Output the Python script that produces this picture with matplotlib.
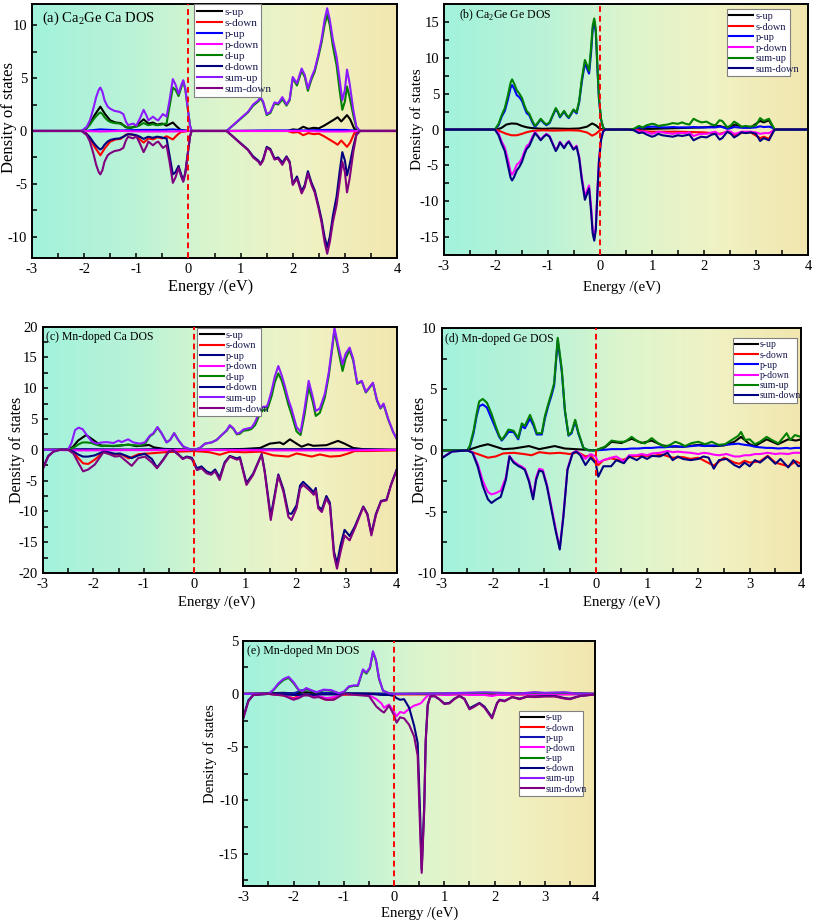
import matplotlib
matplotlib.use("Agg")
import matplotlib.pyplot as plt
from matplotlib.colors import LinearSegmentedColormap
from matplotlib.ticker import MultipleLocator
import numpy as np

plt.rcParams['font.family'] = ['Liberation Serif', 'DejaVu Serif']
plt.rcParams['mathtext.fontset'] = 'custom'
plt.rcParams['mathtext.rm'] = 'Liberation Serif'
plt.rcParams['axes.unicode_minus'] = False

# ---------------- Panel (a): Ca2Ge, Ca DOS ----------------
a_sum_x = [-3, -2.05, -1.95, -1.89, -1.82, -1.77, -1.72, -1.69, -1.65, -1.61, -1.55, -1.5, -1.42, -1.32,
           -1.25, -1.2, -1.16, -1.06, -1.0, -0.93, -0.86, -0.8, -0.77, -0.72, -0.68, -0.62, -0.58, -0.52,
           -0.49, -0.42, -0.36, -0.3, -0.25, -0.19, -0.14, -0.1, -0.06, -0.01, 0.03, 0.06, 0.73, 0.86, 1.0,
           1.14, 1.24, 1.34, 1.38, 1.43, 1.5, 1.57, 1.65, 1.72, 1.8, 1.88, 1.94, 2.0, 2.08, 2.17, 2.23, 2.29,
           2.36, 2.42, 2.49, 2.55, 2.61, 2.66, 2.71, 2.77, 2.84, 2.9, 2.95, 3.0, 3.04, 3.09, 3.16, 3.22,
           3.29, 4.0]
a_sum_up = [0, 0, 0.4, 1.0, 2.2, 3.2, 3.9, 4.1, 3.7, 2.9, 2.3, 2.1, 1.9, 1.8, 1.6, 0.9, 0.55, 0.7, 0.5,
            1.2, 2.0, 1.4, 1.0, 1.2, 1.35, 1.1, 1.0, 1.4, 1.6, 1.35, 3.0, 4.9, 4.4, 3.5, 4.3, 4.8, 4.0, 2.0,
            0.5, 0, 0, 0.57, 1.2, 1.8, 2.5, 2.9, 3.2, 2.8, 1.6, 1.8, 2.7, 2.6, 3.2, 2.5, 3.0, 5.1, 4.5, 5.9,
            5.3, 4.0, 5.1, 5.8, 7.2, 8.6, 10.5, 11.6, 10.5, 8.6, 7.0, 4.8, 2.9, 3.9, 5.8, 4.5, 2.0, 0.4, 0, 0]
a_sum_dn = [0, 0, -0.4, -1.0, -2.2, -3.2, -3.9, -4.1, -3.7, -2.9, -2.3, -2.1, -1.9, -1.8, -1.6, -0.9,
            -0.55, -0.7, -0.5, -1.2, -2.0, -1.4, -1.0, -1.2, -1.35, -1.1, -1.0, -1.4, -1.6, -1.35, -3.0,
            -4.9, -4.4, -3.5, -4.3, -4.8, -4.0, -2.0, -0.5, 0, 0, -0.57, -1.2, -1.8, -2.5, -2.9, -3.2, -2.8,
            -1.6, -1.8, -2.7, -2.6, -3.2, -2.5, -3.0, -5.1, -4.5, -5.9, -5.3, -4.0, -5.1, -5.8, -7.2, -8.6,
            -10.5, -11.6, -10.5, -8.6, -7.0, -4.8, -2.9, -3.9, -5.8, -4.5, -2.0, -0.4, 0, 0]
a_d_up = [0, 0, 0.3, 0.6, 1.1, 1.4, 1.65, 1.75, 1.6, 1.3, 1.0, 0.85, 0.75, 0.7, 0.55, 0.4, 0.3, 0.35, 0.4,
          0.55, 0.75, 0.6, 0.55, 0.6, 0.65, 0.55, 0.55, 0.6, 0.65, 0.7, 2.4, 4.1, 3.9, 3.3, 4.1, 4.7, 3.9,
          2.0, 0.5, 0, 0, 0.55, 1.15, 1.75, 2.4, 2.8, 3.1, 2.7, 1.5, 1.7, 2.6, 2.5, 3.0, 2.4, 2.9, 5.0, 4.3,
          5.7, 5.1, 3.8, 4.9, 5.6, 7.0, 8.3, 10.0, 11.0, 10.0, 8.0, 6.2, 3.8, 2.0, 2.8, 4.2, 3.2, 1.5, 0.3,
          0, 0]
a_d_dn = [0, 0, -0.3, -0.6, -1.1, -1.4, -1.65, -1.75, -1.6, -1.3, -1.0, -0.85, -0.75, -0.7, -0.55, -0.4,
          -0.3, -0.35, -0.4, -0.55, -0.75, -0.6, -0.55, -0.6, -0.65, -0.55, -0.55, -0.6, -0.65, -0.7, -2.4,
          -4.1, -3.9, -3.3, -4.1, -4.7, -3.9, -2.0, -0.5, 0, 0, -0.55, -1.15, -1.75, -2.4, -2.8, -3.1, -2.7,
          -1.5, -1.7, -2.6, -2.5, -3.0, -2.4, -2.9, -5.0, -4.3, -5.7, -5.1, -3.8, -4.9, -5.6, -7.0, -8.3,
          -10.0, -11.0, -10.0, -8.0, -6.2, -3.8, -2.0, -2.8, -4.2, -3.2, -1.5, -0.3, 0, 0]
a_s_x = [-3, -2.0, -1.9, -1.8, -1.69, -1.6, -1.5, -1.4, -1.3, -1.2, -1.1, -1.0, -0.86, -0.77, -0.68, -0.6,
         -0.5, -0.42, -0.3, -0.22, -0.15, 0.0, 1.9, 2.0, 2.1, 2.2, 2.3, 2.4, 2.5, 2.6, 2.7, 2.8, 2.86, 2.93,
         3.04, 3.1, 3.18, 3.25, 4.0]
a_s_up = [0, 0, 0.6, 1.5, 2.3, 1.6, 1.0, 0.8, 0.75, 0.35, 0.3, 0.5, 1.1, 0.7, 0.8, 0.6, 0.7, 0.5, 0.8, 0.4,
          0.1, 0, 0, 0.15, 0.1, 0.4, 0.2, 0.3, 0.25, 0.5, 0.8, 1.1, 1.3, 0.9, 1.5, 1.1, 0.2, 0, 0]
a_s_dn = [0, 0, -0.6, -1.5, -2.3, -1.6, -1.0, -0.8, -0.75, -0.35, -0.3, -0.5, -1.1, -0.7, -0.8, -0.6, -0.7,
          -0.5, -0.8, -0.4, -0.1, 0, 0, -0.15, -0.1, -0.4, -0.2, -0.3, -0.25, -0.5, -0.8, -1.1, -1.3, -0.9,
          -1.5, -1.1, -0.2, 0, 0]
a_p_x = [-3, -2.0, -1.69, -1.3, -0.9, -0.5, -0.3, 0.0, 0.8, 1.5, 2.2, 2.66, 3.0, 3.3, 4.0]
a_p_up = [0, 0, 0.15, 0.05, 0.1, 0.1, 0.15, 0, 0, 0.05, 0.05, 0.1, 0.1, 0, 0]
a_p_dn = [0, 0, -0.05, 0, -0.05, -0.05, -0.05, 0, 0, 0, 0, -0.05, -0.05, 0, 0]

# ---------------- Panel (b): Ca2Ge, Ge DOS ----------------
b_x = [-3, -2.02, -1.95, -1.89, -1.83, -1.77, -1.72, -1.69, -1.65, -1.6, -1.55, -1.5, -1.45, -1.41, -1.36,
       -1.3, -1.25, -1.19, -1.14, -1.08, -1.03, -0.97, -0.91, -0.85, -0.81, -0.77, -0.72, -0.69, -0.64, -0.6,
       -0.55, -0.51, -0.45, -0.4, -0.35, -0.29, -0.25, -0.21, -0.17, -0.14, -0.11, -0.08, -0.05, -0.02, 0.02,
       0.06, 0.1, 0.55, 0.65, 0.75, 0.82, 0.9, 1.0, 1.05, 1.12, 1.2, 1.3, 1.4, 1.5, 1.58, 1.65, 1.72, 1.8,
       1.88, 1.95, 2.05, 2.15, 2.22, 2.3, 2.35, 2.45, 2.52, 2.58, 2.65, 2.72, 2.8, 2.9, 3.0, 3.08, 3.15,
       3.25, 3.3, 3.36, 4.0]
b_sum_up = [0, 0, 0.8, 2.0, 3.0, 4.8, 6.5, 7.0, 6.4, 5.5, 5.0, 4.4, 3.3, 2.6, 2.2, 1.2, 0.5, 1.0, 1.5, 1.0,
            0.7, 1.0, 2.0, 3.0, 2.5, 1.8, 2.3, 2.6, 2.0, 1.7, 2.3, 2.8, 2.4, 4.0, 7.0, 9.7, 9.0, 8.2, 11.5,
            14.5, 15.5, 14.0, 9.0, 4.5, 1.5, 0.3, 0,
            0, 0.1, 0.5, 0.3, 0.6, 0.8, 0.75, 0.5, 0.6, 0.7, 0.9, 0.8, 1.0, 0.8, 0.7, 1.5, 1.2, 1.0, 1.1,
            0.7, 0.6, 1.3, 1.2, 0.3, 0.6, 1.1, 0.8, 0.4, 0.5, 0.4, 0.6, 1.6, 1.2, 1.5, 0.8, 0, 0]
b_p_up = [0, 0, 0.6, 1.8, 2.6, 4.2, 5.8, 6.2, 5.7, 4.8, 4.5, 4.0, 3.0, 2.3, 2.0, 1.0, 0.35, 0.9, 1.4, 0.9,
          0.6, 0.9, 1.9, 2.85, 2.4, 1.7, 2.2, 2.5, 1.9, 1.6, 2.2, 2.7, 2.25, 3.8, 6.6, 9.3, 8.5, 7.8, 10.8,
          14.0, 15.1, 13.5, 8.6, 4.3, 1.4, 0.3, 0,
          0, 0.05, 0.3, 0.25, 0.35, 0.4, 0.4, 0.35, 0.3, 0.3, 0.35, 0.3, 0.3, 0.3, 0.3, 0.35, 0.3, 0.3, 0.3,
          0.3, 0.3, 0.4, 0.35, 0.1, 0.2, 0.35, 0.3, 0.25, 0.25, 0.25, 0.3, 0.45, 0.35, 0.4, 0.3, 0, 0]
b_sum_dn = [0, 0, -0.8, -2.0, -3.0, -5.0, -6.7, -7.1, -6.6, -5.7, -5.2, -4.5, -3.4, -2.7, -2.3, -1.3, -0.5,
            -1.0, -1.5, -1.0, -0.7, -1.0, -2.0, -3.0, -2.5, -1.8, -2.3, -2.6, -2.0, -1.7, -2.3, -2.8, -2.4,
            -4.0, -7.0, -9.8, -9.0, -8.2, -11.5, -14.5, -15.5, -14.0, -9.0, -4.5, -1.5, -0.3, 0,
            0, -0.1, -0.5, -0.4, -0.7, -1.0, -0.9, -0.6, -0.8, -0.9, -1.0, -0.8, -0.9, -0.8, -0.7, -1.5,
            -1.2, -1.0, -1.1, -0.7, -0.6, -1.4, -1.2, -0.3, -0.6, -1.1, -0.8, -0.4, -0.5, -0.4, -0.6, -1.6,
            -1.2, -1.5, -0.8, 0, 0]
b_p_dn = [0, 0, -0.5, -1.7, -2.5, -4.2, -5.9, -6.3, -5.8, -4.9, -4.6, -4.0, -3.0, -2.3, -2.0, -1.0, -0.35,
          -0.9, -1.4, -0.9, -0.6, -0.9, -1.9, -2.85, -2.4, -1.7, -2.2, -2.5, -1.9, -1.6, -2.2, -2.7, -2.25,
          -3.8, -6.6, -9.3, -8.5, -7.8, -10.8, -14.0, -15.1, -13.5, -8.6, -4.3, -1.4, -0.3, 0,
          0, -0.05, -0.3, -0.25, -0.35, -0.6, -0.5, -0.3, -0.4, -0.5, -0.6, -0.5, -0.5, -0.5, -0.4, -0.9,
          -0.7, -0.6, -0.6, -0.4, -0.3, -0.7, -0.6, -0.2, -0.3, -0.6, -0.5, -0.3, -0.3, -0.3, -0.4, -0.6,
          -0.5, -0.5, -0.3, 0, 0]
b_s_x = [-3, -2.0, -1.9, -1.8, -1.7, -1.6, -1.5, -1.4, -1.3, -1.1, -0.9, -0.6, -0.4, -0.25, -0.15, -0.08,
         0.0, 0.1, 0.7, 0.8, 1.0, 1.5, 2.0, 2.3, 2.45, 2.6, 2.75, 2.9, 3.08, 3.15, 3.25, 3.35, 4.0]
b_s_up = [0, 0, 0.2, 0.7, 0.85, 0.8, 0.5, 0.3, 0.2, 0.1, 0.15, 0.1, 0.15, 0.4, 0.85, 0.6, 0.1, 0, 0, 0.1,
          0.1, 0.2, 0.3, 0.5, 0.2, 0.7, 0.3, 0.3, 1.2, 1.0, 1.3, 0, 0]
b_s_dn = [0, 0, -0.3, -0.6, -0.8, -0.8, -0.6, -0.35, -0.2, -0.1, -0.15, -0.1, -0.15, -0.4, -0.85, -0.6,
          -0.1, 0, 0, -0.2, -0.3, -0.3, -0.4, -0.6, -0.3, -0.8, -0.4, -0.4, -1.2, -1.0, -1.3, 0, 0]

# ---------------- Panel (c): Mn-doped, Ca DOS ----------------
c_up_x = [-3, -2.5, -2.43, -2.36, -2.29, -2.21, -2.13, -2.03, -1.93, -1.83, -1.73, -1.6, -1.5, -1.44,
          -1.31, -1.21, -1.08, -0.98, -0.88, -0.81, -0.73, -0.65, -0.55, -0.48, -0.4, -0.32, -0.22, -0.09,
          0.0, 0.11, 0.21, 0.34, 0.44, 0.54, 0.64, 0.7, 0.77, 0.84, 0.9, 0.97, 1.07, 1.13, 1.2, 1.3, 1.36,
          1.43, 1.46, 1.53, 1.59, 1.66, 1.73, 1.79, 1.86, 1.92, 2.02, 2.1, 2.18, 2.26, 2.34, 2.4, 2.48, 2.58,
          2.66, 2.71, 2.77, 2.84, 2.93, 2.99, 3.07, 3.14, 3.22, 3.31, 3.39, 3.53, 3.61, 3.68, 3.74, 3.83,
          3.93, 4.0]
c_sum_up = [0, 0, 1.1, 3.2, 3.6, 3.35, 2.4, 1.35, 1.0, 1.2, 1.25, 1.1, 1.5, 1.25, 1.7, 1.2, 1.0, 1.2, 2.3,
            2.7, 3.7, 2.7, 1.2, 1.6, 2.7, 1.6, 0.55, 0.1, 0, 0.3, 1.0, 1.2, 1.6, 2.4, 3.2, 4.0, 3.5, 2.6,
            2.8, 3.3, 3.5, 3.6, 4.5, 6.4, 7.0, 7.0, 7.6, 9.7, 11.9, 13.6, 12.0, 10.3, 8.1, 6.7, 3.7, 2.9,
            6.7, 11.2, 8.6, 6.3, 6.7, 9.1, 12.7, 15.9, 19.8, 17.0, 13.9, 15.6, 16.6, 14.8, 10.8, 11.2, 9.4,
            10.9, 8.1, 6.8, 7.5, 5.1, 2.9, 1.8]
c_d_up = [0, 0, 0.2, 0.5, 0.9, 1.2, 1.2, 1.1, 0.8, 0.6, 0.65, 0.65, 0.7, 0.75, 0.8, 0.75, 0.7, 0.9, 2.2,
          2.6, 3.6, 2.7, 1.2, 1.6, 2.7, 1.6, 0.5, 0.1, 0, 0.3, 1.0, 1.2, 1.6, 2.4, 3.1, 3.9, 3.4, 2.5, 2.6,
          3.1, 3.2, 3.4, 4.0, 5.9, 6.5, 6.5, 7.0, 8.8, 11.0, 12.4, 11.2, 9.5, 7.3, 5.8, 3.0, 2.4, 5.8, 10.2,
          7.8, 5.5, 6.0, 8.5, 12.2, 15.4, 19.4, 16.4, 12.8, 14.8, 16.2, 14.5, 10.7, 11.1, 9.3, 10.8, 8.0,
          6.7, 7.4, 5.0, 2.9, 1.8]
c_dn_x = [-3, -2.89, -2.79, -2.66, -2.49, -2.39, -2.29, -2.2, -2.1, -1.97, -1.8, -1.7, -1.57, -1.47, -1.34,
          -1.24, -1.11, -0.98, -0.84, -0.74, -0.61, -0.51, -0.42, -0.32, -0.23, -0.15, -0.05, 0.05, 0.14,
          0.24, 0.33, 0.41, 0.5, 0.6, 0.7, 0.84, 0.9, 1.03, 1.16, 1.33, 1.39, 1.51, 1.66, 1.76, 1.86, 1.92,
          2.02, 2.09, 2.15, 2.28, 2.36, 2.4, 2.45, 2.52, 2.61, 2.68, 2.76, 2.82, 2.89, 2.97, 3.07, 3.17,
          3.34, 3.42, 3.5, 3.59, 3.69, 3.8, 3.89, 4.0]
c_sum_dn = [-3.2, -1.1, -0.3, 0, 0, -0.65, -2.2, -3.5, -3.2, -2.4, -0.4, -0.65, -1.1, -1.0, -1.9, -2.6,
            -1.35, -1.1, -2.05, -3.0, -1.6, -0.3, -0.1, -0.8, -1.5, -1.2, -1.5, -3.3, -3.0, -3.8, -4.05,
            -3.5, -4.9, -2.2, -1.1, -1.6, -1.4, -5.7, -4.1, -0.75, -3.6, -11.4, -4.2, -6.8, -10.9, -11.4,
            -9.5, -6.3, -5.7, -6.6, -7.3, -6.6, -9.5, -10.1, -7.9, -9.0, -17.1, -19.3, -16.6, -13.9, -14.7,
            -12.8, -9.3, -10.5, -13.9, -10.6, -8.4, -8.2, -5.7, -3.3]
c_d_dn = [-3.0, -1.0, -0.3, 0, 0, -0.3, -0.8, -1.1, -1.1, -0.9, -0.3, -0.4, -0.65, -0.6, -1.0, -1.35, -0.9,
          -0.65, -1.5, -2.9, -1.5, -0.3, -0.1, -0.7, -1.4, -1.1, -1.3, -3.0, -2.7, -3.5, -3.8, -3.2, -4.5,
          -2.0, -1.0, -1.4, -1.2, -5.4, -3.9, -0.7, -3.4, -10.8, -4.0, -6.4, -10.3, -10.4, -9.0, -5.8, -5.2,
          -6.2, -6.9, -6.2, -9.2, -9.7, -7.5, -8.6, -16.5, -18.5, -15.5, -13.0, -14.0, -12.5, -9.2, -10.4,
          -13.6, -10.4, -8.3, -8.1, -5.6, -3.2]
c_s_x = [-3, -2.5, -2.4, -2.3, -2.14, -2.0, -1.85, -1.6, -1.45, -1.3, -1.15, -0.98, -0.9, -0.8, -0.6, -0.4,
         0.0, 0.5, 1.0, 1.3, 1.49, 1.69, 1.76, 1.89, 2.02, 2.12, 2.25, 2.35, 2.61, 2.84, 2.97, 3.14, 3.34,
         3.6, 4.0]
c_s_up = [0, 0, 0.5, 1.5, 2.4, 1.6, 0.7, 0.6, 0.7, 0.85, 0.6, 0.7, 0.8, 0.4, 0.15, 0.1, 0, 0.05, 0.15, 0.3,
          1.0, 1.2, 0.9, 1.7, 1.0, 0.5, 0.9, 0.65, 0.75, 1.45, 1.0, 0.3, 0.1, 0.05, 0]
c_sd_x = [-3, -2.5, -2.39, -2.2, -2.1, -1.97, -1.8, -1.6, -1.45, -1.3, -1.1, -0.9, -0.6, -0.3, 0.0, 0.3,
          0.5, 0.7, 1.0, 1.3, 1.56, 1.86, 2.02, 2.12, 2.32, 2.48, 2.68, 2.88, 3.04, 3.17, 3.4, 3.7, 4.0]
c_s_dn = [0, 0, -0.5, -2.2, -2.3, -1.6, -0.4, -0.8, -0.7, -1.4, -0.7, -0.6, -0.4, -0.3, -0.2, -0.4, -0.8,
          -0.3, -0.4, -0.3, -0.9, -1.1, -0.6, -0.75, -1.1, -0.75, -1.1, -1.0, -0.6, -0.2, -0.2, -0.15, -0.1]
c_p_x = [-3, -2.2, -1.3, -0.7, 0.0, 0.5, 1.0, 1.6, 2.0, 2.8, 3.5, 4.0]
c_p_up = [0, 0.1, 0.05, 0.1, 0, 0.05, 0.05, 0.1, 0.1, 0.15, 0.05, 0]
c_p_dn = [0, -0.1, -0.05, -0.05, 0, -0.05, -0.05, -0.1, -0.1, -0.1, -0.05, 0]

# ---------------- Panel (d): Mn-doped, Ge DOS ----------------
d_up_x = [-3, -2.5, -2.45, -2.38, -2.32, -2.27, -2.2, -2.12, -2.03, -1.95, -1.88, -1.83, -1.77, -1.7, -1.6,
          -1.51, -1.44, -1.38, -1.28, -1.21, -1.15, -1.05, -0.99, -0.92, -0.86, -0.81, -0.74, -0.66, -0.6,
          -0.53, -0.47, -0.4, -0.34, -0.24, -0.14, 0.0, 0.18, 0.31, 0.44, 0.57, 0.7, 0.83, 0.96, 1.09, 1.22,
          1.35, 1.45, 1.55, 1.64, 1.74, 1.87, 2.0, 2.13, 2.26, 2.39, 2.52, 2.65, 2.78, 2.83, 2.91, 3.0, 3.1,
          3.2, 3.33, 3.43, 3.56, 3.72, 3.79, 3.88, 4.0]
d_sum_up = [0, 0, 0.4, 1.6, 3.0, 4.0, 4.2, 3.9, 3.0, 2.0, 1.2, 0.86, 1.2, 1.7, 1.6, 1.0, 2.2, 2.0, 2.9, 2.2,
            1.4, 1.4, 2.8, 3.85, 4.7, 5.5, 9.2, 6.6, 3.3, 1.25, 1.5, 2.5, 1.5, 0.2, 0, 0, 0.3, 0.8, 0.7,
            0.7, 1.1, 0.7, 0.57, 1.0, 0.57, 0.3, 0.45, 0.7, 0.57, 0.35, 0.6, 0.7, 0.5, 0.7, 0.45, 0.5, 0.85,
            1.2, 1.5, 0.85, 0.9, 0.5, 0.7, 1.1, 0.85, 0.57, 1.4, 0.85, 1.25, 1.1]
d_p_up = [0, 0, 0.3, 1.4, 2.8, 3.6, 3.75, 3.5, 2.6, 1.8, 1.1, 0.8, 1.1, 1.5, 1.5, 0.9, 2.0, 1.8, 2.6, 2.0,
          1.3, 1.3, 2.6, 3.7, 4.5, 5.3, 9.0, 6.4, 3.2, 1.2, 1.4, 2.4, 1.4, 0.2, 0, 0, 0.05, 0.1, 0.1, 0.1,
          0.15, 0.15, 0.2, 0.2, 0.25, 0.25, 0.3, 0.35, 0.3, 0.3, 0.35, 0.4, 0.35, 0.4, 0.4, 0.45, 0.5, 0.55,
          0.5, 0.45, 0.4, 0.3, 0.25, 0.2, 0.2, 0.15, 0.2, 0.15, 0.2, 0.2]
d_s_x = [-3, -2.5, -2.4, -2.25, -2.1, -1.95, -1.8, -1.6, -1.3, -1.1, -0.8, -0.6, -0.4, -0.2, 0.0, 0.18,
         0.31, 0.5, 0.7, 0.9, 1.09, 1.3, 1.5, 1.7, 2.0, 2.3, 2.5, 2.7, 2.83, 3.0, 3.1, 3.33, 3.55, 3.75,
         3.9, 4.0]
d_s_up = [0, 0, 0.15, 0.35, 0.5, 0.3, 0.1, 0.15, 0.35, 0.1, 0.35, 0.15, 0.1, 0.05, 0, 0.25, 0.7, 0.6,
          0.95, 0.6, 0.8, 0.4, 0.3, 0.3, 0.45, 0.35, 0.4, 0.7, 1.1, 0.5, 0.35, 0.9, 0.5, 0.9, 0.8, 0.9]
d_dn_x = [-3, -2.8, -2.5, -2.4, -2.3, -2.2, -2.1, -2.03, -1.95, -1.85, -1.75, -1.68, -1.6, -1.5, -1.45,
          -1.38, -1.3, -1.22, -1.16, -1.1, -1.03, -0.95, -0.85, -0.78, -0.7, -0.63, -0.55, -0.45, -0.38,
          -0.3, -0.2, -0.1, 0.0, 0.05, 0.15, 0.3, 0.4, 0.55, 0.65, 0.8, 0.9, 1.0, 1.1, 1.25, 1.4, 1.5, 1.6,
          1.7, 1.85, 2.0, 2.1, 2.2, 2.3, 2.4, 2.55, 2.7, 2.8, 2.9, 3.0, 3.1, 3.2, 3.35, 3.5, 3.6, 3.75,
          3.85, 3.95, 4.0]
d_sum_dn = [-0.65, -0.1, 0, -0.2, -1.3, -2.9, -4.0, -4.3, -4.05, -3.8, -2.4, -0.5, -1.0, -1.3, -1.4, -1.6,
            -2.55, -4.0, -2.4, -1.65, -1.75, -2.95, -5.1, -6.6, -8.1, -5.45, -1.6, -0.25, -0.1, -0.4, -1.2,
            -0.6, -1.05, -2.15, -1.3, -1.3, -0.8, -1.05, -0.5, -0.8, -0.5, -0.7, -0.45, -0.5, -0.2, -0.8,
            -0.5, -0.7, -0.8, -0.7, -0.5, -0.6, -1.5, -0.8, -0.7, -1.2, -1.4, -1.0, -1.3, -0.8, -1.0, -0.5,
            -1.1, -0.7, -1.4, -0.8, -1.3, -1.2]
d_p_dn = [-0.6, -0.1, 0, -0.15, -1.1, -2.5, -3.4, -3.6, -3.5, -3.3, -2.2, -0.45, -0.9, -1.2, -1.3, -1.5,
          -2.4, -3.8, -2.2, -1.5, -1.6, -2.8, -4.9, -6.4, -8.0, -5.3, -1.5, -0.2, -0.05, -0.3, -0.7, -0.3,
          -0.5, -1.0, -0.8, -0.6, -0.5, -0.9, -0.4, -0.4, -0.3, -0.4, -0.25, -0.2, -0.05, -0.15, -0.1,
          -0.15, -0.2, -0.3, -0.2, -0.25, -0.35, -0.4, -0.3, -0.5, -0.5, -0.4, -0.4, -0.3, -0.3, -0.2, -0.3,
          -0.25, -0.3, -0.2, -0.2, -0.2]
d_sd_x = [-3, -2.5, -2.3, -2.1, -1.95, -1.8, -1.6, -1.4, -1.25, -1.1, -0.9, -0.7, -0.5, -0.35, -0.2, -0.1,
          0.05, 0.15, 0.3, 0.45, 0.55, 0.7, 0.9, 1.1, 1.3, 1.5, 1.7, 1.85, 2.0, 2.3, 2.5, 2.7, 2.8, 2.9,
          3.0, 3.2, 3.35, 3.5, 3.75, 3.9, 4.0]
d_s_dn = [0, 0, -0.3, -0.6, -0.5, -0.25, -0.2, -0.3, -0.4, -0.15, -0.25, -0.2, -0.3, -0.15, -0.5, -0.4,
          -1.2, -0.8, -0.65, -0.8, -0.75, -0.5, -0.45, -0.45, -0.35, -0.6, -0.55, -0.7, -0.6, -1.25, -0.6,
          -1.0, -1.1, -0.85, -1.0, -0.9, -0.45, -1.0, -1.3, -0.9, -1.1]

# ---------------- Panel (e): Mn-doped, Mn DOS ----------------
e_up_x = [-3, -2.5, -2.4, -2.3, -2.2, -2.1, -2.0, -1.9, -1.82, -1.75, -1.65, -1.55, -1.4, -1.25, -1.1, -1.0,
          -0.9, -0.8, -0.72, -0.62, -0.55, -0.48, -0.42, -0.36, -0.3, -0.22, -0.1, 0.0, 1.0, 1.8, 2.5, 2.8,
          3.0, 3.4, 3.6, 4.0]
e_sum_up = [0, 0, 0.4, 1.0, 1.4, 1.6, 1.1, 0.4, 0.25, 0.55, 0.35, 0.15, 0.4, 0.35, 0.05, 0.2, 0.7, 0.8,
            0.8, 2.3, 2.0, 2.5, 4.0, 3.2, 1.5, 0.3, 0.05, 0, 0.05, 0.15, 0.05, 0.15, 0.1, 0.15, 0.05, 0]
e_d_up = [0, 0, 0.35, 0.9, 1.3, 1.5, 1.0, 0.35, 0.2, 0.45, 0.3, 0.1, 0.35, 0.3, 0.05, 0.15, 0.65, 0.75,
          0.75, 2.2, 1.9, 2.4, 3.9, 3.1, 1.4, 0.3, 0.05, 0, 0.05, 0.1, 0.05, 0.1, 0.08, 0.1, 0.05, 0]
e_sp_x = [-3, -2.2, -2.0, -1.75, -1.5, -1.0, 0, 1, 2, 2.8, 3.2, 4]
e_s_up = [0, 0.1, 0.05, 0.15, 0.05, 0.05, 0, 0, 0, 0.1, 0.05, 0]
e_p_up = [0, 0.05, 0.05, 0.45, 0.1, 0.05, 0, 0, 0.05, 0.05, 0.05, 0]
e_dn_x = [-3, -2.9, -2.8, -2.5, -2.2, -2.0, -1.9, -1.8, -1.7, -1.6, -1.5, -1.35, -1.2, -1.0, -0.5, -0.35,
          -0.25, -0.2, -0.1, 0.0, 0.05, 0.12, 0.2, 0.3, 0.4, 0.47, 0.52, 0.55, 0.6, 0.63, 0.67, 0.72, 0.8,
          0.9, 1.0, 1.1, 1.2, 1.3, 1.4, 1.5, 1.6, 1.7, 1.8, 1.95, 2.05, 2.1, 2.2, 2.35, 2.5, 2.65, 2.8, 3.0,
          3.2, 3.4, 3.5, 3.7, 4.0]
e_sum_dn = [-2.3, -0.7, -0.1, 0, -0.15, -0.55, -0.4, -0.15, -0.15, -0.35, -0.3, -0.55, -0.55, 0, -0.2, -1.2,
            -1.6, -1.75, -1.1, -2.0, -2.7, -2.2, -2.3, -2.9, -4.0, -5.8, -13.0, -16.8, -11.0, -4.5, -1.1,
            -0.25, -0.2, -0.5, -0.95, -0.9, -0.5, -0.2, -0.5, -1.45, -1.2, -0.9, -1.3, -2.3, -0.9, -0.6,
            -0.7, -0.3, -0.5, -0.25, -0.3, -0.25, -0.25, -0.45, -0.5, -0.2, -0.05]
e_d_dn = [-2.2, -0.6, -0.1, 0, -0.05, -0.1, -0.1, -0.05, -0.05, -0.1, -0.05, -0.05, -0.05, 0, 0, -0.05,
          -0.1, -0.1, -0.1, -0.2, -0.4, -0.55, -0.5, -1.3, -3.0, -4.6, -11.5, -16.5, -10.5, -4.3, -1.0,
          -0.25, -0.2, -0.5, -0.9, -0.85, -0.45, -0.2, -0.45, -1.35, -1.1, -0.85, -1.2, -2.2, -0.85, -0.55,
          -0.65, -0.3, -0.45, -0.25, -0.25, -0.2, -0.2, -0.4, -0.45, -0.2, -0.05]
e_p_dn = [0, 0, 0, 0, -0.1, -0.5, -0.3, -0.05, -0.1, -0.3, -0.2, -0.4, -0.3, 0, -0.1, -0.5, -0.9, -1.3,
          -1.0, -1.7, -2.1, -1.7, -1.8, -1.4, -1.1, -1.0, -0.9, -0.8, -0.5, -0.35, -0.15, -0.1, -0.05,
          -0.05, -0.1, -0.1, -0.05, -0.05, -0.05, -0.1, -0.1, -0.1, -0.1, -0.2, -0.1, -0.1, -0.1, -0.05,
          -0.05, -0.05, -0.05, -0.05, -0.05, -0.05, -0.05, -0.05, 0]
e_sd_x = [-3, -2.5, -2.2, -2.0, -1.8, -1.5, -1.4, -1.3, -1.2, -1.1, -0.5, 0, 1, 2, 3, 4]
e_s_dn = [0, 0, -0.15, -0.4, -0.05, -0.2, -0.5, -0.55, -0.5, -0.1, 0, -0.05, -0.05, -0.05, -0.05, 0]

# ---------------- styling ----------------
C_BLACK, C_RED, C_BLUE, C_MAG = '#000000', '#ff0000', '#0000ff', '#ff00ff'
C_GREEN, C_NAVY, C_VIOLET, C_PURPLE = '#008000', '#000080', '#8c1aff', '#800080'

bg_cmap = LinearSegmentedColormap.from_list(
    'bg', [(0.0, '#a2f2dc'), (0.3, '#bdf3d6'), (0.5, '#dcf5cd'), (0.75, '#f0f2c4'), (1.0, '#f2e6ae')])

fig = plt.figure(figsize=(8.13, 9.24), dpi=100)


def panel(rect, series, ylim, ystep, title, title_fs, leg_rect, leg_fs, ylab, xlab):
    ax = fig.add_axes(rect)
    grad = np.linspace(0, 1, 256).reshape(1, -1)
    ax.imshow(grad, cmap=bg_cmap, aspect='auto', extent=[0, 1, 0, 1],
              transform=ax.transAxes, zorder=0, interpolation='bilinear')
    for x, y, col, lab in series:
        ax.plot(x, y, color=col, lw=1.5, label=lab, zorder=2, solid_joinstyle='round')
    ax.axvline(0, color='#ff0000', lw=1.4, ls=(0, (3, 2)), zorder=3)
    ax.set_xlim(-3, 4)
    ax.set_ylim(*ylim)
    ax.xaxis.set_major_locator(MultipleLocator(1))
    ax.xaxis.set_minor_locator(MultipleLocator(0.5))
    ax.yaxis.set_major_locator(MultipleLocator(ystep))
    ax.yaxis.set_minor_locator(MultipleLocator(ystep / 2))
    ax.tick_params(which='both', direction='in', length=3.5, width=1.1, labelsize=10.5,
                   top=False, right=False)
    for s in ax.spines.values():
        s.set_linewidth(1.4)
    ax.set_xlabel('Energy /(eV)', fontsize=xlab[0])
    ax.set_ylabel('Density of states', fontsize=ylab[0])
    ax.xaxis.set_label_coords(xlab[1], xlab[2])
    ax.yaxis.set_label_coords(ylab[1], ylab[2])
    ax.xaxis.label.set_va('center')
    ax.yaxis.label.set_va('center')
    ax.text(title[1], title[2], title[0], transform=ax.transAxes, ha='left', va='center',
            fontsize=title_fs, zorder=5)
    leg = ax.legend(loc='upper left', bbox_to_anchor=leg_rect, mode='expand', borderaxespad=0,
                    fontsize=leg_fs, frameon=True, fancybox=False, framealpha=1,
                    edgecolor='#808080', handlelength=2.3, handletextpad=0.2, labelspacing=0.12,
                    borderpad=0.25, labelcolor='#1a1a50')
    leg.get_frame().set_linewidth(0.8)
    leg.set_zorder(6)
    return ax


panel([0.0394, 0.7208, 0.449, 0.2749],
      [(a_s_x, a_s_up, C_BLACK, 's-up'), (a_s_x, a_s_dn, C_RED, 's-down'),
       (a_p_x, a_p_up, C_BLUE, 'p-up'), (a_p_x, a_p_dn, C_MAG, 'p-down'),
       (a_sum_x, a_d_up, C_GREEN, 'd-up'), (a_sum_x, a_d_dn, C_NAVY, 'd-down'),
       (a_sum_x, a_sum_up, C_VIOLET, 'sum-up'), (a_sum_x, a_sum_dn, C_PURPLE, 'sum-down')],
      (-12, 12), 5, (r'(a) Ca$_\mathregular{2}$Ge Ca DOS', 0.027, 0.945), 10.5,
      (0.444, 1.0, 0.183, 0.0), 8, (12, -0.062, 0.555), (11.7, 0.49, -0.114))

panel([0.5461, 0.724, 0.4477, 0.2716],
      [(b_s_x, b_s_up, C_BLACK, 's-up'), (b_s_x, b_s_dn, C_RED, 's-down'),
       (b_x, b_p_up, C_BLUE, 'p-up'), (b_x, b_p_dn, C_MAG, 'p-down'),
       (b_x, b_sum_up, C_GREEN, 'sum-up'), (b_x, b_sum_dn, C_NAVY, 'sum-down')],
      (-17.5, 17.5), 5, (r'(b) Ca$_\mathregular{2}$Ge Ge DOS', 0.041, 0.956), 8.5,
      (0.777, 0.98, 0.173, 0.0), 7.5, (11, -0.074, 0.542), (10.7, 0.489, -0.127))

panel([0.0525, 0.3799, 0.4354, 0.2666],
      [(c_s_x, c_s_up, C_BLACK, 's-up'), (c_sd_x, c_s_dn, C_RED, 's-down'),
       (c_p_x, c_p_up, C_NAVY, 'p-up'), (c_p_x, c_p_dn, C_MAG, 'p-down'),
       (c_up_x, c_d_up, C_GREEN, 'd-up'), (c_dn_x, c_d_dn, C_NAVY, 'd-down'),
       (c_up_x, c_sum_up, C_VIOLET, 'sum-up'), (c_dn_x, c_sum_dn, C_PURPLE, 'sum-down')],
      (-20, 20), 5, ('(c) Mn-doped Ca DOS', 0.008, 0.958), 8.5,
      (0.436, 0.995, 0.181, 0.0), 7.5, (11.5, -0.073, 0.5), (10.6, 0.492, -0.118))

panel([0.5433, 0.3802, 0.442, 0.2648],
      [(d_s_x, d_s_up, C_BLACK, 's-up'), (d_sd_x, d_s_dn, C_RED, 's-down'),
       (d_up_x, d_p_up, C_BLUE, 'p-up'), (d_dn_x, d_p_dn, C_MAG, 'p-down'),
       (d_up_x, d_sum_up, C_GREEN, 'sum-up'), (d_dn_x, d_sum_dn, C_NAVY, 'sum-down')],
      (-10, 10), 5, ('(d) Mn-doped Ge DOS', 0.009, 0.954), 8.5,
      (0.81, 0.959, 0.179, 0.0), 7, (11.5, -0.060, 0.501), (10.6, 0.502, -0.12))

panel([0.2993, 0.0415, 0.4326, 0.2652],
      [(e_sp_x, e_s_up, C_BLACK, 's-up'), (e_sd_x, e_s_dn, C_RED, 's-down'),
       (e_sp_x, e_p_up, '#1414b4', 'p-up'), (e_dn_x, e_p_dn, C_MAG, 'p-down'),
       (e_up_x, e_d_up, C_GREEN, 's-up'), (e_dn_x, e_d_dn, C_NAVY, 's-down'),
       (e_up_x, e_sum_up, C_VIOLET, 'sum-up'), (e_dn_x, e_sum_dn, C_PURPLE, 'sum-down')],
      (-18, 5), 5, ('(e) Mn-doped Mn DOS', 0.01, 0.958), 8.6,
      (0.784, 0.713, 0.182, 0.0), 7, (10.6, -0.095, 0.537), (10.6, 0.502, -0.111))

fig.savefig('out.png', dpi=100)
